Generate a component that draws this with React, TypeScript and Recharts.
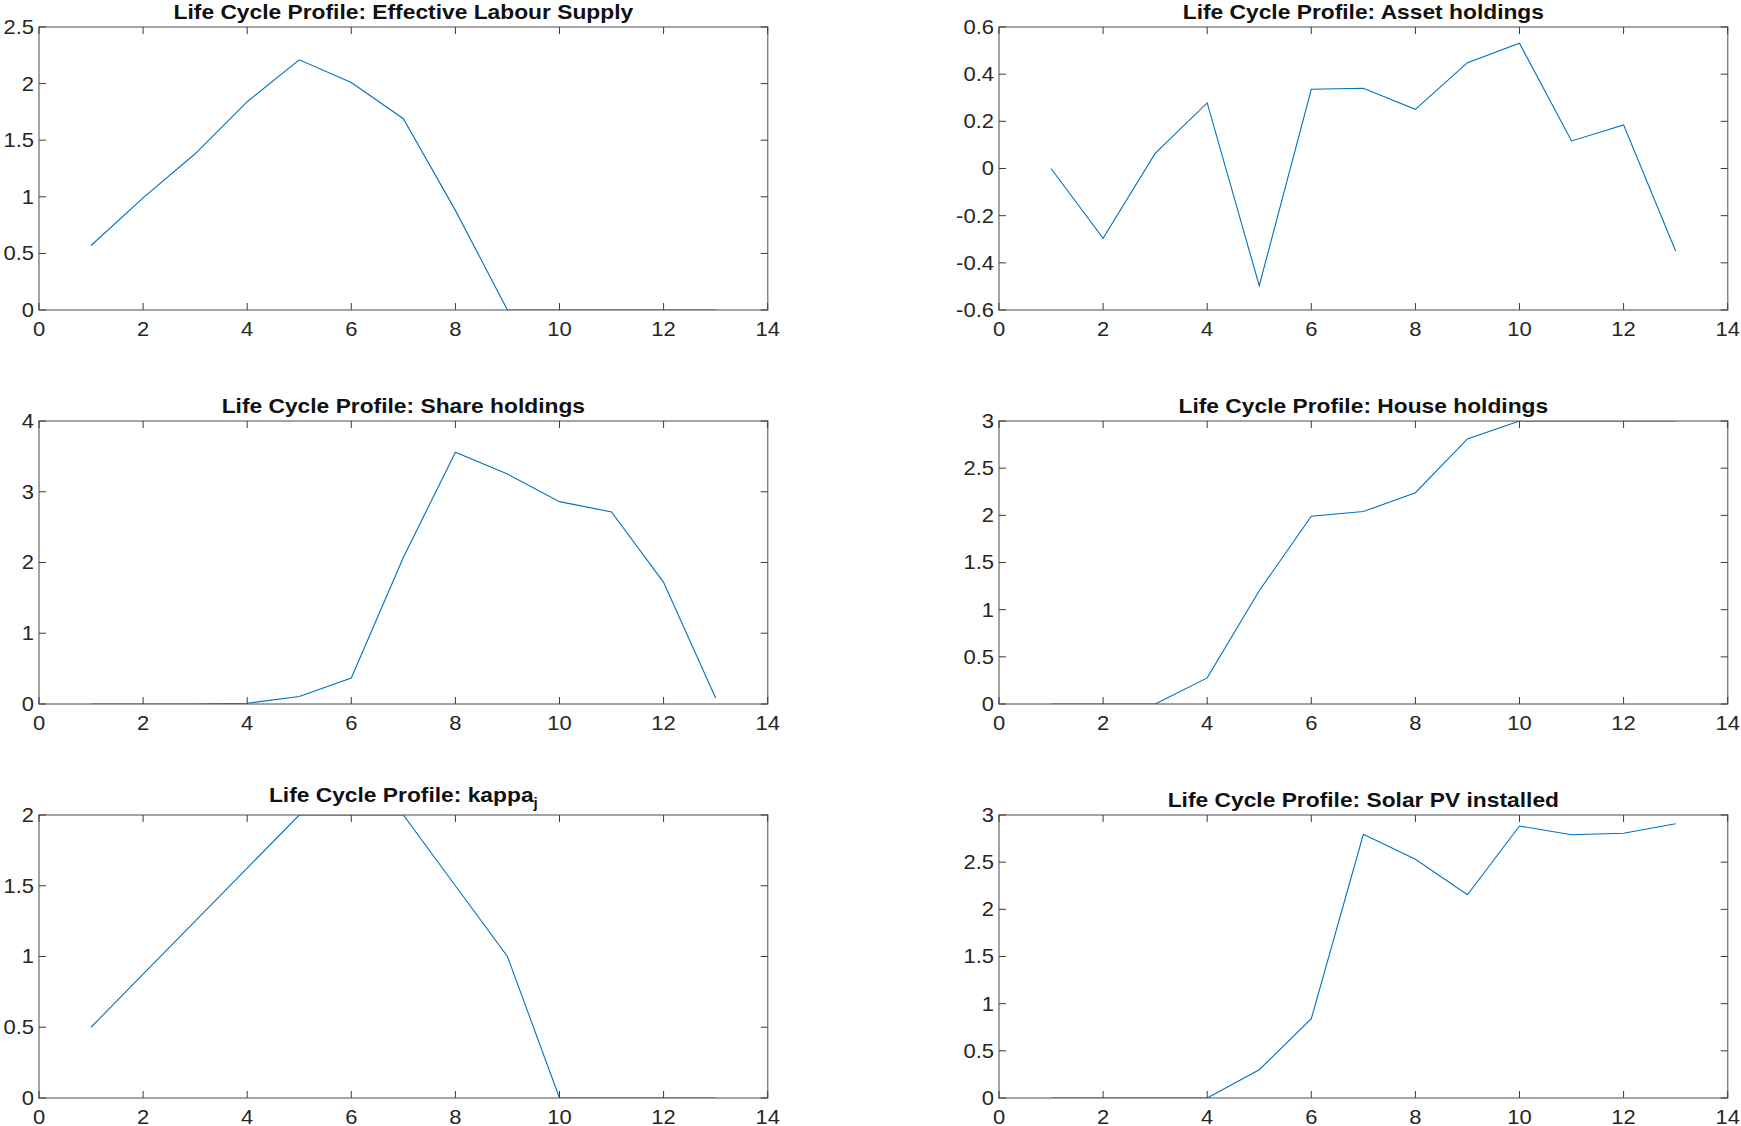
import React from "react";
import { LineChart, Line, XAxis, YAxis, ReferenceArea } from "recharts";

// ---------- data ----------
const ages = [1, 2, 3, 4, 5, 6, 7, 8, 9, 10, 11, 12, 13];

const labourSupply = [0.57, 0.99, 1.38, 1.84, 2.21, 2.01, 1.69, 0.88, 0, 0, 0, 0, 0];
const assetHoldings = [0, -0.296, 0.064, 0.278, -0.497, 0.336, 0.34, 0.251, 0.449, 0.531, 0.117, 0.185, -0.35];
const shareHoldings = [0, 0, 0, 0.01, 0.105, 0.368, 2.07, 3.56, 3.25, 2.86, 2.715, 1.72, 0.085];
const houseHoldings = [0, 0, 0, 0.277, 1.2, 1.99, 2.04, 2.24, 2.81, 3, 3, 3, 3];
const kappa = [0.5, 0.875, 1.25, 1.625, 2, 2, 2, 1.5, 1, 0, 0, 0, 0];
const solarPV = [0, 0, 0, 0, 0.3, 0.84, 2.795, 2.53, 2.155, 2.883, 2.79, 2.806, 2.908];

const xTicks = [0, 2, 4, 6, 8, 10, 12, 14];
const xTickLabels = ["0", "2", "4", "6", "8", "10", "12", "14"];

const yTicks1 = [0, 0.5, 1, 1.5, 2, 2.5];
const yLabels1 = ["0", "0.5", "1", "1.5", "2", "2.5"];
const yTicks2 = [-0.6, -0.4, -0.2, 0, 0.2, 0.4, 0.6];
const yLabels2 = ["-0.6", "-0.4", "-0.2", "0", "0.2", "0.4", "0.6"];
const yTicks3 = [0, 1, 2, 3, 4];
const yLabels3 = ["0", "1", "2", "3", "4"];
const yTicks4 = [0, 0.5, 1, 1.5, 2, 2.5, 3];
const yLabels4 = ["0", "0.5", "1", "1.5", "2", "2.5", "3"];
const yTicks5 = [0, 0.5, 1, 1.5, 2];
const yLabels5 = ["0", "0.5", "1", "1.5", "2"];
const yTicks6 = [0, 0.5, 1, 1.5, 2, 2.5, 3];
const yLabels6 = ["0", "0.5", "1", "1.5", "2", "2.5", "3"];

// ---------- layout ----------
const PW = 728.7;
const PH = 283;
const ML = 70;
const MT = 40;
const MR = 20;
const MB = 45;
const COL_LEFT = [39.3, 999.2];
const ROW_TOP = [26.7, 420.8, 815];

const FONT = "'Liberation Sans', Arial, Helvetica, sans-serif";
const LINE_COLOR = "#0072BD";
const BOX_COLOR = "#878787";
const TICK_COLOR = "#3a3a3a";
const TEXT_COLOR = "#262626";
const TICK_LEN = 7;
const TICK_FONT = 20;
const SX = 1.1;
const TITLE_SX = 1.085;

type PanelProps = {
  title: React.ReactNode;
  values: number[];
  yTicks: number[];
  yLabels: string[];
  col: number;
  row: number;
  titleGap?: number;
};

const XTick = (props: any) => {
  const { x, index } = props;
  const bottom = MT + PH;
  return (
    <g>
      <line x1={x} x2={x} y1={bottom} y2={bottom - TICK_LEN} stroke={TICK_COLOR} strokeWidth={1} />
      <line x1={x} x2={x} y1={MT} y2={MT + TICK_LEN} stroke={TICK_COLOR} strokeWidth={1} />
      <text
        transform={`translate(${x},${bottom + 26}) scale(${SX},1)`}
        textAnchor="middle"
        fontFamily={FONT}
        fontSize={TICK_FONT}
        fill={TEXT_COLOR}
      >
        {xTickLabels[index]}
      </text>
    </g>
  );
};

const makeYTick = (labels: string[]) => (props: any) => {
  const { y, index } = props;
  return (
    <g>
      <line x1={ML} x2={ML + TICK_LEN} y1={y} y2={y} stroke={TICK_COLOR} strokeWidth={1} />
      <line x1={ML + PW} x2={ML + PW - TICK_LEN} y1={y} y2={y} stroke={TICK_COLOR} strokeWidth={1} />
      <text
        transform={`translate(${ML - 5},${y + 7}) scale(${SX},1)`}
        textAnchor="end"
        fontFamily={FONT}
        fontSize={TICK_FONT}
        fill={TEXT_COLOR}
      >
        {labels[index]}
      </text>
    </g>
  );
};

const Panel = ({ title, values, yTicks, yLabels, col, row, titleGap = 8 }: PanelProps) => {
  const data = ages.map((a, i) => ({ x: a, y: values[i] }));
  const plotLeft = COL_LEFT[col];
  const plotTop = ROW_TOP[row];
  const yMin = yTicks[0];
  const yMax = yTicks[yTicks.length - 1];
  const titleSize = 21;
  const baseline = plotTop - titleGap;
  return (
    <>
      <div
        style={{
          position: "absolute",
          left: plotLeft,
          width: PW,
          top: baseline - 0.8465 * titleSize,
          height: titleSize,
          lineHeight: `${titleSize}px`,
          fontSize: titleSize,
          fontFamily: FONT,
          fontWeight: "bold",
          color: "#111",
          textAlign: "center",
          whiteSpace: "nowrap",
          transform: `scaleX(${TITLE_SX})`,
          transformOrigin: "50% 50%",
        }}
      >
        {title}
      </div>
      <div style={{ position: "absolute", left: plotLeft - ML, top: plotTop - MT }}>
        <LineChart
          width={ML + PW + MR}
          height={MT + PH + MB}
          data={data}
          margin={{ top: MT, right: MR, bottom: 0, left: 0 }}
        >
          <XAxis
            type="number"
            dataKey="x"
            domain={[0, 14]}
            ticks={xTicks}
            allowDataOverflow
            axisLine={false}
            tickLine={false}
            height={MB}
            interval={0}
            tick={XTick}
          />
          <YAxis
            type="number"
            domain={[yMin, yMax]}
            ticks={yTicks}
            allowDataOverflow
            axisLine={false}
            tickLine={false}
            width={ML}
            interval={0}
            tick={makeYTick(yLabels)}
          />
          <ReferenceArea
            x1={0}
            x2={14}
            y1={yMin}
            y2={yMax}
            fill="none"
            stroke={BOX_COLOR}
            strokeWidth={1.5}
            ifOverflow="visible"
          />
          <Line
            type="linear"
            dataKey="y"
            stroke={LINE_COLOR}
            strokeWidth={1.1}
            dot={false}
            activeDot={false}
            isAnimationActive={false}
          />
        </LineChart>
      </div>
    </>
  );
};

export default function App() {
  return (
    <div
      style={{
        position: "absolute",
        left: 0,
        top: 0,
        width: 1741,
        height: 1126,
        background: "#ffffff",
        overflow: "hidden",
      }}
    >
      <Panel title="Life Cycle Profile: Effective Labour Supply" values={labourSupply} yTicks={yTicks1} yLabels={yLabels1} col={0} row={0} />
      <Panel title="Life Cycle Profile: Asset holdings" values={assetHoldings} yTicks={yTicks2} yLabels={yLabels2} col={1} row={0} />
      <Panel title="Life Cycle Profile: Share holdings" values={shareHoldings} yTicks={yTicks3} yLabels={yLabels3} col={0} row={1} />
      <Panel title="Life Cycle Profile: House holdings" values={houseHoldings} yTicks={yTicks4} yLabels={yLabels4} col={1} row={1} />
      <Panel
        title={
          <>
            Life Cycle Profile: kappa
            <span style={{ fontSize: 14, position: "relative", top: 6 }}>j</span>
          </>
        }
        values={kappa}
        yTicks={yTicks5}
        yLabels={yLabels5}
        col={0}
        row={2}
        titleGap={13.3}
      />
      <Panel title="Life Cycle Profile: Solar PV installed" values={solarPV} yTicks={yTicks6} yLabels={yLabels6} col={1} row={2} />
    </div>
  );
}
